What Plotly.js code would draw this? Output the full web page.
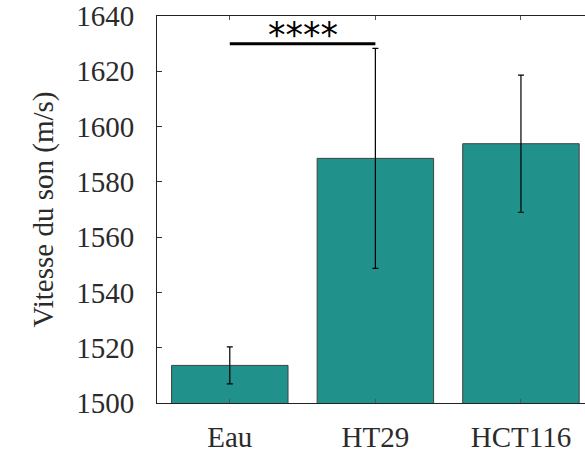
<!DOCTYPE html>
<html>
<head>
<meta charset="utf-8">
<script src="https://cdn.plot.ly/plotly-3.0.1.min.js"></script>
<style>html,body{margin:0;padding:0;background:#fff;}#chart{width:585px;height:455px;}</style>
</head>
<body>
<div id="chart"></div>
<script>
const categories = ["Eau", "HT29", "HCT116"];
const meanSpeed = [1513.6, 1588.5, 1593.8];
const stdSpeed = [6.7, 39.8, 24.8];
const sigPair = ["Eau", "HT29"];
const sigLevel = [1630];
const sigLabel = "****";
const yTicks = [1500, 1520, 1540, 1560, 1580, 1600, 1620, 1640];
const yTitle = "Vitesse du son (m/s)";

const serif = s => '<span style="font-family:Liberation Serif">' + s + '</span>';

const trace = {
  type: "bar",
  x: categories,
  y: meanSpeed,
  width: 0.8,
  marker: {color: "#21918c", line: {color: "#404040", width: 1}},
  error_y: {type: "data", array: stdSpeed, visible: true, color: "#000", thickness: 1.2, width: 3}
};

const tf = {family: "Liberation Serif", size: 29, color: "#2b2b2b"};

const layout = {
  width: 585, height: 455,
  margin: {l: 157, r: 0, t: 16, b: 52},
  paper_bgcolor: "#fff", plot_bgcolor: "#fff",
  showlegend: false,
  xaxis: {
    type: "category",
    range: [-0.5, 2.44],
    tickvals: categories,
    ticktext: categories.map(serif),
    showline: true, linecolor: "#222", linewidth: 1,
    mirror: "ticks",
    ticks: "inside", ticklen: 4, tickcolor: "#555", tickwidth: 1,
    showgrid: false, zeroline: false,
    tickfont: tf,
    ticklabelstandoff: 8
  },
  yaxis: {
    range: [1500, 1640],
    tickvals: yTicks,
    ticktext: yTicks.map(v => serif(String(v))),
    showline: true, linecolor: "#222", linewidth: 1,
    ticks: "inside", ticklen: 5, tickcolor: "#333", tickwidth: 1,
    showgrid: false, zeroline: false,
    tickfont: tf,
    ticklabelstandoff: 16,
    title: {text: serif(yTitle), font: tf, standoff: 14}
  },
  shapes: [{
    type: "line", xref: "x", yref: "y",
    x0: sigPair[0], x1: sigPair[1], y0: sigLevel[0], y1: sigLevel[0],
    line: {color: "#000", width: 3}
  }],
  annotations: [{
    xref: "x", yref: "y",
    x: 0.5, y: sigLevel[0],
    text: sigLabel, showarrow: false,
    yanchor: "bottom", yshift: -13,
    font: {family: "DejaVu Sans", size: 35, color: "#000"}
  }]
};

Plotly.newPlot("chart", [trace], layout, {displayModeBar: false, staticPlot: true});
</script>
</body>
</html>
